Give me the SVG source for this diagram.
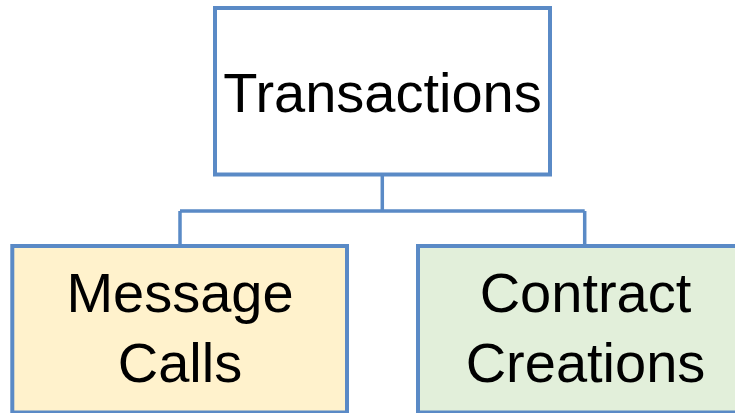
<svg xmlns="http://www.w3.org/2000/svg" width="735" height="413" viewBox="0 0 735 413">
<style>
.box{stroke:#5A8AC6;stroke-width:4}
.conn{fill:none;stroke:#5A8AC6;stroke-width:3.5}
text{font-family:"Liberation Sans",Arial,sans-serif;font-size:56px;fill:#000;text-anchor:middle}
</style>
<rect width="735" height="413" fill="#fff"/>
<g id="connectors">
<path class="conn" d="M382.3,176 V211 M180,211 H584.7 M180,211 V244 M584.7,211 V244"/>
</g>
<g id="transactions">
<rect class="box" x="215" y="8" width="335" height="166.5" fill="#fff"/>
<text x="382.5" y="112">Transactions</text>
</g>
<g id="message-calls">
<rect class="box" x="12.3" y="246" width="334.7" height="166.5" fill="#FFF2CC"/>
<text x="180" y="312">Message</text>
<text x="180" y="382">Calls</text>
</g>
<g id="contract-creations">
<rect class="box" x="418" y="246" width="335" height="166.5" fill="#E2EFDA"/>
<text x="585.5" y="312">Contract</text>
<text x="585.5" y="382">Creations</text>
</g>
</svg>
